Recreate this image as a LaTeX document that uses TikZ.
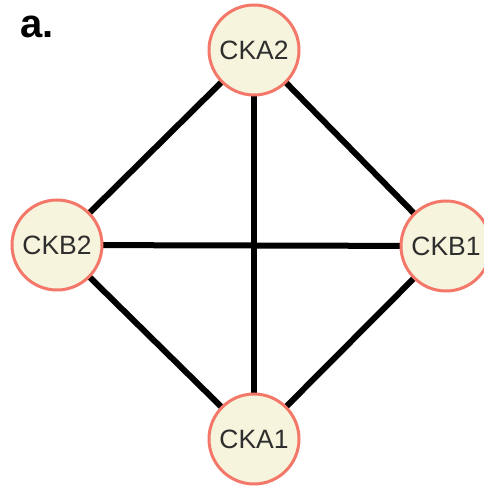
\documentclass[tikz,border=0pt]{standalone}
\usepackage{fontspec}
\setmainfont{Liberation Sans}
\usetikzlibrary{backgrounds}
\definecolor{nodefill}{HTML}{F6F4DC}
\definecolor{nodeedge}{HTML}{F4786A}
\definecolor{nodetext}{HTML}{2E2E2E}
\begin{document}
\begin{tikzpicture}[x=1pt,y=-1pt,
  ck/.style={circle,draw=nodeedge,fill=nodefill,line width=3pt,minimum size=90pt,inner sep=0pt,
    text=nodetext,font=\fontsize{26.5}{26.5}\selectfont},
  link/.style={line width=6pt,black}]
\useasboundingbox (0,0) rectangle (483,486);
\node[anchor=base west,font=\bfseries\fontsize{40}{40}\selectfont] (lbl) at (17,38) {a.};
\node[ck] (a2) at (254,50) {CKA2};
\node[ck] (b2) at (57,245) {CKB2};
\node[ck] (b1) at (446,246) {CKB1};
\node[ck] (a1) at (254,439) {CKA1};
\begin{scope}[on background layer]
\draw[link] (a2.center) -- (b2.center);
\draw[link] (a2.center) -- (b1.center);
\draw[link] (a2.center) -- (a1.center);
\draw[link] (b2.center) -- (b1.center);
\draw[link] (b2.center) -- (a1.center);
\draw[link] (b1.center) -- (a1.center);
\end{scope}
\end{tikzpicture}
\end{document}
